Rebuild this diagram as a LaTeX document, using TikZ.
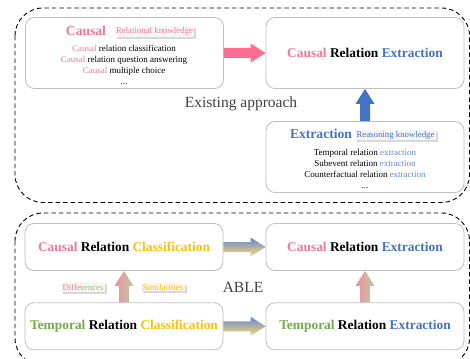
\documentclass[tikz,border=0pt]{standalone}
\usepackage{fontspec}
\setmainfont{Liberation Serif}
\usepackage{tikz}
\usetikzlibrary{calc, positioning, shadows}

\definecolor{ablepink}{RGB}{247,118,150}
\definecolor{ablearrowpink}{RGB}{255,110,145}
\definecolor{ableblue}{RGB}{68,114,196}
\definecolor{ablegold}{RGB}{255,192,0}
\definecolor{ablegreen}{RGB}{112,173,71}
\definecolor{ablegray}{RGB}{191,191,191}
\definecolor{ablecaption}{RGB}{64,64,64}

% thick block arrow between two anchors
\newcommand{\fatarrow}[3]{%
	\coordinate (fatbase) at ($(#3)!15pt!(#2)$);
	\path[#1] ($(#2)!5pt!90:(#3)$) -- ($(fatbase)!5pt!90:(#3)$) -- ($(fatbase)!9.5pt!90:(#3)$)
		-- (#3) -- ($(fatbase)!9.5pt!-90:(#3)$) -- ($(fatbase)!5pt!-90:(#3)$) -- ($(#2)!5pt!-90:(#3)$) -- cycle;
}

\begin{document}
\begin{tikzpicture}[
x=1pt, y=-1pt,
box/.style = {draw=ablegray, line width=0.8pt, rounded corners=9pt, fill=white, minimum width=198pt},
bigbox/.style = {box, minimum height=71pt},
smallbox/.style = {box, minimum height=47pt},
group/.style = {draw=black, line width=0.9pt, dash pattern=on 4.5pt off 3pt, rounded corners=28pt},
titletexts/.style = {font=\fontsize{13.4}{15}\selectfont\bfseries},
headtexts/.style = {font=\fontsize{13.6}{16}\selectfont\bfseries},
itemtexts/.style = {font=\fontsize{9}{11.2}\selectfont, align=center},
tagtexts/.style = {font=\fontsize{8.8}{10}\selectfont, fill=black!4, inner sep=1.4pt, drop shadow={shadow xshift=2pt, shadow yshift=-2pt, fill=black!30}},
captiontexts/.style = {font=\fontsize{15.5}{18}\selectfont, text=ablecaption}
]
\useasboundingbox (0,0) rectangle (470,358);

% dashed groups
\draw[group] (15,8) rectangle (469.5,202.5);
\draw[group] (15,213) rectangle (469.5,366);

% existing approach
\node[bigbox] (causal) at (124.5,53) {};
\node[bigbox] (cre) at (365,53) {};
\node[bigbox] (extr) at (365,157) {};

\node[headtexts, text=ablepink] (causalhead) at (86,31) {Causal};
\node[tagtexts, text=ablepink] (causaltag) at (154.5,31.5) {Relational knowledge};
\node[itemtexts] (causalitems) at (124,65) {\textcolor{ablepink}{Causal} relation classification\\
	\textcolor{ablepink}{Causal} relation question answering\\
	\textcolor{ablepink}{Causal} multiple choice\\ ...};

\node[titletexts] (crehead) at (cre) {\textcolor{ablepink}{Causal} Relation \textcolor{ableblue}{Extraction}};

\node[headtexts, text=ableblue] (extrhead) at (321,134) {Extraction};
\node[tagtexts, text=ableblue] (extrtag) at (395.5,135) {Reasoning knowledge};
\node[itemtexts] (extritems) at (365,169) {Temporal relation \textcolor{ableblue!85}{extraction}\\
	Subevent relation \textcolor{ableblue!85}{extraction}\\
	Counterfactual relation \textcolor{ableblue!85}{extraction}\\ ...};

\node[captiontexts] (existing) at (241,104) {Existing approach};

\fatarrow{fill=ablearrowpink}{causal.east}{cre.west}
\fatarrow{fill=ableblue}{extr.north}{cre.south}

% ABLE
\node[smallbox] (crc) at (124,247) {};
\node[smallbox] (cre2) at (365,247) {};
\node[smallbox] (trc) at (124,326.3) {};
\node[smallbox] (tre) at (365,326.3) {};

\node[titletexts] (crctext) at (crc) {\textcolor{ablepink}{Causal} Relation \textcolor{ablegold}{Classification}};
\node[titletexts] (cre2text) at (cre2) {\textcolor{ablepink}{Causal} Relation \textcolor{ableblue}{Extraction}};
\node[titletexts] (trctext) at (trc) {\textcolor{ablegreen}{Temporal} Relation \textcolor{ablegold}{Classification}};
\node[titletexts] (tretext) at (tre) {\textcolor{ablegreen}{Temporal} Relation \textcolor{ableblue}{Extraction}};

\node[captiontexts] (able) at (243,287) {ABLE};
\node[tagtexts] (difftag) at (83,287) {\textcolor{ablepink}{Differ}\textcolor{ablegreen!70}{ences}};
\node[tagtexts, text=ablegold] (simtag) at (163,287) {Similarities};

\fatarrow{top color=ableblue!85, bottom color=ablegold!55}{crc.east}{cre2.west}
\fatarrow{top color=ableblue!85, bottom color=ablegold!55}{trc.east}{tre.west}
\fatarrow{left color=ablepink!85, right color=ablegreen!55}{trc.north}{crc.south}
\fatarrow{left color=ablepink!85, right color=ablegreen!55}{tre.north}{cre2.south}
\end{tikzpicture}
\end{document}
